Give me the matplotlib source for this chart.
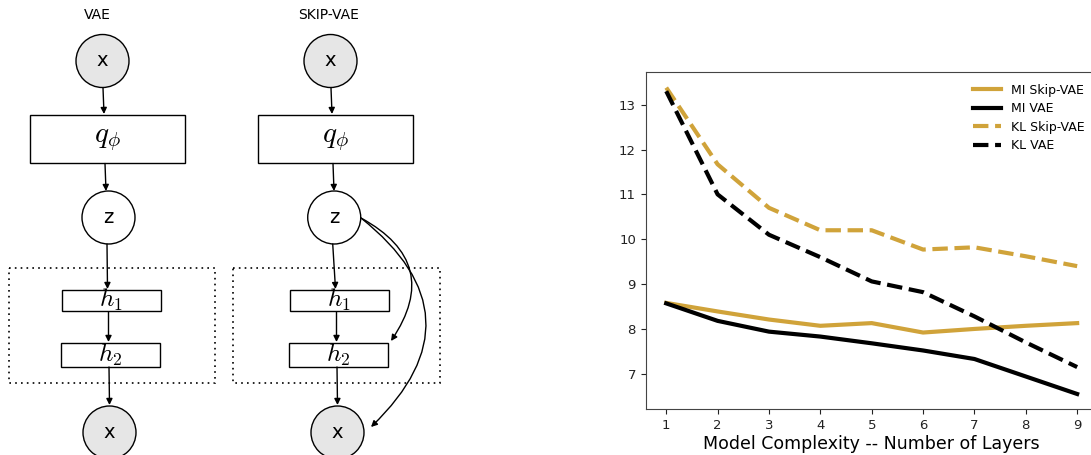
import matplotlib
matplotlib.use("Agg")
import matplotlib.pyplot as plt
from matplotlib.patches import Circle, Rectangle, FancyArrowPatch

# data
layers = [1, 2, 3, 4, 5, 6, 7, 8, 9]
mi_skip = [8.58, 8.39, 8.21, 8.07, 8.13, 7.92, 8.00, 8.07, 8.13]
mi_vae = [8.57, 8.18, 7.94, 7.83, 7.68, 7.52, 7.33, 6.94, 6.55]
kl_skip = [13.38, 11.67, 10.70, 10.20, 10.20, 9.77, 9.82, 9.62, 9.40]
kl_vae = [13.30, 11.00, 10.10, 9.60, 9.06, 8.82, 8.28, 7.70, 7.15]
series_labels = ["MI Skip-VAE", "MI VAE", "KL Skip-VAE", "KL VAE"]

gold = "#d0a33a"

fig = plt.figure(figsize=(10.91, 4.55), dpi=100)

# ---- left: the two model diagrams, drawn in pixel units ----
d = fig.add_axes([0, 0, 450 / 1091, 1])
d.set_xlim(0, 450)
d.set_ylim(455, 0)
d.axis("off")


def arrow(ax, p0, p1, rad=0.0):
    a = FancyArrowPatch(p0, p1, arrowstyle="-|>", mutation_scale=9,
                        connectionstyle="arc3,rad=%s" % rad,
                        lw=1.0, color="black", shrinkA=0, shrinkB=0)
    ax.add_patch(a)


def node(ax, cx, cy, txt, fill):
    ax.add_patch(Circle((cx, cy), 26.5, fc=fill, ec="black", lw=1.0))
    ax.text(cx, cy, txt, ha="center", va="center", fontsize=14)


def box(ax, x0, x1, y0, y1, txt, fs):
    ax.add_patch(Rectangle((x0, y0), x1 - x0, y1 - y0, fc="white", ec="black", lw=1.0))
    ax.text((x0 + x1) / 2, (y0 + y1) / 2, txt, ha="center", va="center",
            fontsize=fs, math_fontfamily="cm")


for off, title in [(0, "VAE"), (228, "SKIP-VAE")]:
    d.text(97 + off * 1.015, 15, title, ha="center", va="center", fontsize=10)
    # dotted decoder frame
    d.add_patch(Rectangle((8.5 + off * 0.986, 267.5), 206.5, 115, fill=False,
                          ec="black", lw=1.2, ls=(0, (1, 2.5))))
    node(d, 102.5 + off, 61, "x", "#e6e6e6")
    arrow(d, (103 + off, 88), (104 + off, 114))
    box(d, 29.5 + off, 185 + off, 114.5, 163, r"$q_\phi$", 21)
    arrow(d, (105 + off, 163.5), (106 + off, 191))
    node(d, 108.5 + off * 0.99, 217.5, "z", "white")
    arrow(d, (107 + off * 0.99, 244), (107.5 + off, 289))
    box(d, 61.5 + off, 160.5 + off, 289.5, 311, r"$h_1$", 18)
    arrow(d, (108.5 + off, 312), (108.5 + off, 342))
    box(d, 60.5 + off, 159.5 + off, 342.5, 366.5, r"$h_2$", 18)
    arrow(d, (109 + off, 367), (109.5 + off, 405))
    node(d, 109.5 + off, 432.5, "x", "#e6e6e6")

# skip connections
arrow(d, (361, 218), (391, 341), rad=-0.55)
arrow(d, (361, 218), (371, 427), rad=-0.57)

# ---- right: MI / KL chart ----
ax = fig.add_axes([645.7 / 1091, 45.7 / 455, 452 / 1091, 337 / 455])
ax.plot(layers, mi_skip, color=gold, lw=3, label=series_labels[0])
ax.plot(layers, mi_vae, color="black", lw=3, label=series_labels[1])
ax.plot(layers, kl_skip, color=gold, lw=3, ls="--", label=series_labels[2])
ax.plot(layers, kl_vae, color="black", lw=3, ls="--", label=series_labels[3])
ax.set_xticks(layers)
ax.set_yticks([7, 8, 9, 10, 11, 12, 13])
ax.tick_params(labelsize=9.5, colors="#222222")
for s in ax.spines.values():
    s.set_color("#444444")
ax.set_xlabel("Model Complexity -- Number of Layers", fontsize=12.5, labelpad=2)
ax.legend(loc="upper right", frameon=False, fontsize=9, handlelength=2.2,
          labelspacing=0.45, bbox_to_anchor=(0.995, 1.0))

fig.savefig("out.png", dpi=100)
